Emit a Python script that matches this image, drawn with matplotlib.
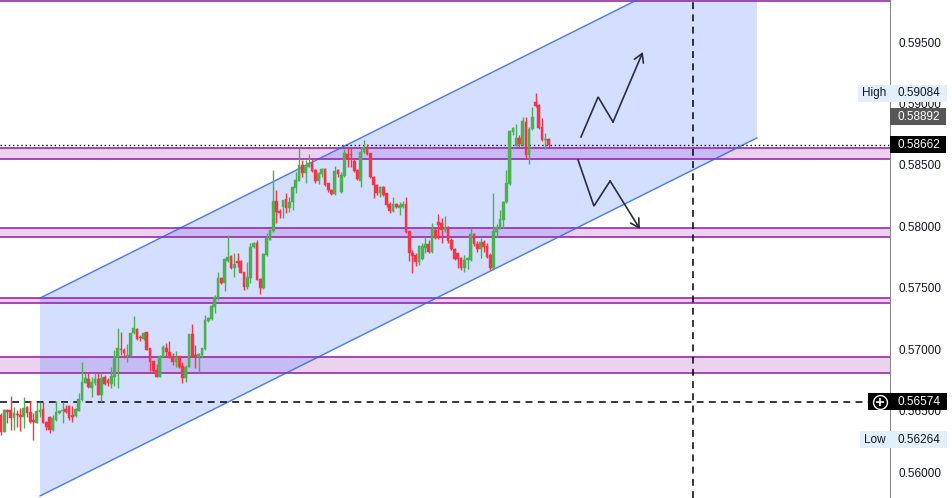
import numpy as np
import matplotlib
matplotlib.use("Agg")
import matplotlib.pyplot as plt
from matplotlib.patches import Rectangle, Polygon
from matplotlib.transforms import blended_transform_factory

plt.rcParams["font.family"] = ["Liberation Sans", "DejaVu Sans"]

# candles (oldest first)
opens = [
    0.56464, 0.56326, 0.56505, 0.56505, 0.56440, 0.56472, 0.56464, 0.56448, 0.56529, 0.56488,
    0.56423, 0.56399, 0.56488, 0.56513, 0.56407, 0.56448, 0.56342, 0.56423, 0.56480, 0.56496,
    0.56513, 0.56537, 0.56464, 0.56456, 0.56496, 0.56586, 0.56724, 0.56757, 0.56684, 0.56724,
    0.56757, 0.56627, 0.56773, 0.56749, 0.56716, 0.56773, 0.56936, 0.57001, 0.56993, 0.56944,
    0.56944, 0.57131, 0.57164, 0.57099, 0.57083, 0.57140, 0.57009, 0.56903, 0.56830, 0.56773,
    0.56936, 0.57009, 0.56977, 0.56944, 0.56895, 0.56944, 0.56863, 0.56765, 0.56855, 0.57123,
    0.56952, 0.56936, 0.56952, 0.57001, 0.57229, 0.57245, 0.57343, 0.57416, 0.57579, 0.57538,
    0.57718, 0.57758, 0.57661, 0.57718, 0.57718, 0.57628, 0.57506, 0.57579, 0.57831, 0.57864,
    0.57571, 0.57498, 0.57766, 0.57888, 0.57962, 0.58206, 0.58124, 0.58157, 0.58222, 0.58149,
    0.58198, 0.58312, 0.58369, 0.58499, 0.58434, 0.58483, 0.58515, 0.58458, 0.58369, 0.58426,
    0.58466, 0.58352, 0.58295, 0.58263, 0.58458, 0.58279, 0.58409, 0.58589, 0.58589, 0.58532,
    0.58458, 0.58369, 0.58605, 0.58646, 0.58597, 0.58401, 0.58336, 0.58271, 0.58320, 0.58271,
    0.58181, 0.58124, 0.58181, 0.58149, 0.58157, 0.58181, 0.57962, 0.57783, 0.57766, 0.57710,
    0.57734, 0.57823, 0.57856, 0.57791, 0.57970, 0.58035, 0.58027, 0.57970, 0.57994, 0.57888,
    0.57815, 0.57783, 0.57742, 0.57661, 0.57726, 0.57726, 0.57937, 0.57856, 0.57815, 0.57872,
    0.57840, 0.57766, 0.57661, 0.57954, 0.57986, 0.58051, 0.58198, 0.58344, 0.58768, 0.58654,
    0.58719, 0.58662, 0.58849, 0.58580, 0.58792, 0.59012, 0.58987, 0.58808, 0.58702, 0.58711,
]
highs = [
    0.56480, 0.56513, 0.56513, 0.56619, 0.56529, 0.56505, 0.56521, 0.56610, 0.56537, 0.56578,
    0.56480, 0.56570, 0.56570, 0.56570, 0.56415, 0.56456, 0.56464, 0.56578, 0.56505, 0.56570,
    0.56545, 0.56545, 0.56537, 0.56521, 0.56643, 0.56895, 0.56806, 0.56814, 0.56773, 0.56806,
    0.56814, 0.56806, 0.56790, 0.56765, 0.56855, 0.56993, 0.57172, 0.57140, 0.57009, 0.57042,
    0.57131, 0.57270, 0.57172, 0.57115, 0.57140, 0.57140, 0.57009, 0.56903, 0.56879, 0.56952,
    0.57034, 0.57050, 0.57066, 0.56969, 0.56985, 0.56944, 0.56895, 0.56871, 0.57123, 0.57205,
    0.57034, 0.56969, 0.57009, 0.57278, 0.57262, 0.57367, 0.57441, 0.57628, 0.57587, 0.57742,
    0.57929, 0.57766, 0.57783, 0.57783, 0.57726, 0.57628, 0.57710, 0.57864, 0.57872, 0.57888,
    0.57579, 0.57783, 0.57945, 0.57970, 0.58458, 0.58295, 0.58141, 0.58214, 0.58271, 0.58239,
    0.58328, 0.58442, 0.58637, 0.58540, 0.58540, 0.58589, 0.58556, 0.58466, 0.58442, 0.58474,
    0.58474, 0.58352, 0.58303, 0.58491, 0.58466, 0.58442, 0.58629, 0.58646, 0.58646, 0.58556,
    0.58466, 0.58646, 0.58702, 0.58670, 0.58597, 0.58409, 0.58344, 0.58328, 0.58328, 0.58271,
    0.58198, 0.58239, 0.58190, 0.58198, 0.58206, 0.58239, 0.57962, 0.57807, 0.57783, 0.57848,
    0.57864, 0.57913, 0.57888, 0.58027, 0.57986, 0.58100, 0.58067, 0.58084, 0.58002, 0.57905,
    0.57823, 0.57783, 0.57750, 0.57766, 0.57750, 0.57986, 0.57945, 0.57880, 0.57905, 0.57888,
    0.57864, 0.57783, 0.58271, 0.58019, 0.58133, 0.58206, 0.58458, 0.58784, 0.58808, 0.58833,
    0.58743, 0.58890, 0.58890, 0.58808, 0.58971, 0.59084, 0.58995, 0.58882, 0.58759, 0.58719,
]
lows = [
    0.56301, 0.56326, 0.56399, 0.56342, 0.56342, 0.56366, 0.56334, 0.56358, 0.56448, 0.56399,
    0.56264, 0.56399, 0.56448, 0.56399, 0.56342, 0.56317, 0.56334, 0.56415, 0.56472, 0.56399,
    0.56480, 0.56423, 0.56407, 0.56448, 0.56496, 0.56578, 0.56724, 0.56684, 0.56610, 0.56708,
    0.56627, 0.56570, 0.56708, 0.56700, 0.56684, 0.56700, 0.56684, 0.56952, 0.56928, 0.56895,
    0.56944, 0.57123, 0.57074, 0.57066, 0.57074, 0.56993, 0.56822, 0.56814, 0.56773, 0.56773,
    0.56936, 0.56944, 0.56928, 0.56871, 0.56855, 0.56847, 0.56724, 0.56733, 0.56855, 0.56936,
    0.56847, 0.56806, 0.56936, 0.56993, 0.57221, 0.57237, 0.57294, 0.57400, 0.57530, 0.57473,
    0.57710, 0.57652, 0.57587, 0.57669, 0.57620, 0.57482, 0.57490, 0.57538, 0.57823, 0.57563,
    0.57449, 0.57490, 0.57758, 0.57888, 0.57954, 0.58027, 0.58067, 0.58067, 0.58108, 0.58117,
    0.58133, 0.58271, 0.58369, 0.58401, 0.58352, 0.58483, 0.58442, 0.58352, 0.58344, 0.58401,
    0.58328, 0.58279, 0.58255, 0.58255, 0.58401, 0.58271, 0.58401, 0.58483, 0.58483, 0.58442,
    0.58377, 0.58320, 0.58597, 0.58580, 0.58393, 0.58230, 0.58255, 0.58239, 0.58247, 0.58157,
    0.58108, 0.58117, 0.58149, 0.58092, 0.58149, 0.57945, 0.57718, 0.57620, 0.57677, 0.57685,
    0.57726, 0.57783, 0.57783, 0.57783, 0.57897, 0.57897, 0.57864, 0.57954, 0.57864, 0.57807,
    0.57726, 0.57661, 0.57644, 0.57628, 0.57652, 0.57718, 0.57840, 0.57791, 0.57742, 0.57791,
    0.57742, 0.57644, 0.57644, 0.57913, 0.57978, 0.57986, 0.58190, 0.58336, 0.58743, 0.58654,
    0.58637, 0.58654, 0.58556, 0.58507, 0.58784, 0.58971, 0.58792, 0.58694, 0.58629, 0.58646,
]
closes = [
    0.56326, 0.56505, 0.56488, 0.56440, 0.56480, 0.56464, 0.56448, 0.56521, 0.56480, 0.56407,
    0.56407, 0.56496, 0.56505, 0.56399, 0.56366, 0.56342, 0.56440, 0.56488, 0.56496, 0.56505,
    0.56488, 0.56440, 0.56448, 0.56513, 0.56594, 0.56733, 0.56765, 0.56692, 0.56733, 0.56757,
    0.56627, 0.56765, 0.56716, 0.56724, 0.56781, 0.56936, 0.57009, 0.56993, 0.56969, 0.56952,
    0.57131, 0.57172, 0.57083, 0.57091, 0.57131, 0.56993, 0.56895, 0.56822, 0.56773, 0.56944,
    0.57018, 0.56977, 0.56936, 0.56895, 0.56936, 0.56855, 0.56765, 0.56855, 0.57123, 0.56944,
    0.56936, 0.56960, 0.57009, 0.57237, 0.57253, 0.57351, 0.57425, 0.57579, 0.57538, 0.57734,
    0.57750, 0.57661, 0.57693, 0.57701, 0.57620, 0.57506, 0.57587, 0.57831, 0.57864, 0.57563,
    0.57498, 0.57775, 0.57905, 0.57970, 0.58206, 0.58117, 0.58108, 0.58214, 0.58149, 0.58198,
    0.58320, 0.58377, 0.58499, 0.58434, 0.58483, 0.58515, 0.58450, 0.58369, 0.58434, 0.58466,
    0.58336, 0.58295, 0.58263, 0.58450, 0.58426, 0.58418, 0.58597, 0.58548, 0.58580, 0.58450,
    0.58385, 0.58605, 0.58646, 0.58589, 0.58401, 0.58336, 0.58271, 0.58320, 0.58255, 0.58173,
    0.58124, 0.58181, 0.58157, 0.58173, 0.58181, 0.57954, 0.57783, 0.57758, 0.57710, 0.57840,
    0.57840, 0.57856, 0.57791, 0.57978, 0.57905, 0.58010, 0.57970, 0.57994, 0.57880, 0.57815,
    0.57734, 0.57734, 0.57661, 0.57726, 0.57742, 0.57937, 0.57856, 0.57815, 0.57872, 0.57831,
    0.57750, 0.57661, 0.57962, 0.57994, 0.58059, 0.58198, 0.58352, 0.58776, 0.58800, 0.58719,
    0.58670, 0.58857, 0.58580, 0.58792, 0.58890, 0.58979, 0.58800, 0.58702, 0.58711, 0.58662,
]

# price scale
price_ticks = [0.56000, 0.56500, 0.57000, 0.57500, 0.58000, 0.58500, 0.59000, 0.59500]
high_price = 0.59084
low_price = 0.56264
last_price = 0.58662
mark_price = 0.58892
cross_price = 0.56574

# drawings (bar index, price)
zones = [(0.58548, 0.58637), (0.57913, 0.57986), (0.57375, 0.57416), (0.56806, 0.56936)]
top_line = 0.59834
channel_x = [12.04, 233.3]
channel_lower = [0.55805, 0.58719]
channel_upper = [0.57416, 0.60330]
vline_x = 213.6
up_path_x = [179.0, 184.3, 188.9, 198.1]
up_path_y = [0.58727, 0.59053, 0.58849, 0.59419]
down_path_x = [178.1, 183.0, 188.0, 197.2]
down_path_y = [0.58540, 0.58165, 0.58369, 0.57978]

GREEN = "#4caf50"
RED = "#f23645"
BLUE = "#2962ff"
PURPLE = "#9c27b0"
INK = "#131722"

o = np.array(opens)
c = np.array(closes)
h = np.maximum(np.array(highs), np.maximum(o, c))
l = np.minimum(np.array(lows), np.minimum(o, c))
x = np.arange(len(o))
up = c >= o
colors = np.where(up, GREEN, RED)

AX_W = 890.0
PX = 1 / 12286.0  # price per pixel

fig = plt.figure(figsize=(9.52, 4.98), dpi=100)
ax = fig.add_axes([0, 0, AX_W / 952, 1])
ax.set_xlim(-1 / 3.24, (AX_W - 1) / 3.24)
ax.set_ylim(0.59842 - 498 * PX, 0.59842)

for s in ["top", "bottom", "left"]:
    ax.spines[s].set_visible(False)
ax.spines["right"].set_color("#8a8a8a")
ax.spines["right"].set_linewidth(0.8)
ax.set_xticks([])
ax.yaxis.tick_right()
ax.set_yticks(price_ticks)
ax.set_yticklabels([f"{t:.5f}" for t in price_ticks])
ax.tick_params(axis="y", length=0, pad=5.8, labelsize=8.5, labelcolor=INK)

# support / resistance zones
for lo, hi in zones:
    ax.axhspan(lo, hi, facecolor=PURPLE, alpha=0.2, lw=0, zorder=1)
    ax.axhline(lo, color=PURPLE, lw=1.2, zorder=2)
    ax.axhline(hi, color=PURPLE, lw=1.2, zorder=2)
ax.axhline(top_line, color=PURPLE, lw=1.2, zorder=2)

# rising channel
poly = Polygon([(channel_x[0], channel_lower[0]), (channel_x[1], channel_lower[1]),
                (channel_x[1], channel_upper[1]), (channel_x[0], channel_upper[0])],
               closed=True, facecolor=BLUE, alpha=0.2, edgecolor="none", zorder=1.5)
ax.add_patch(poly)
ax.plot(channel_x, channel_lower, color=BLUE, lw=1, alpha=0.85, zorder=2.2)
ax.plot(channel_x, channel_upper, color=BLUE, lw=1, alpha=0.85, zorder=2.2)

trans = blended_transform_factory(ax.transAxes, ax.transData)

# last price dotted line, crosshair lines
ax.axhline(last_price, color="black", lw=1, linestyle=(0, (1, 2)), zorder=2.5)
ax.plot([0, 868 / AX_W], [cross_price, cross_price], transform=trans,
        color="black", lw=1.1, linestyle=(0, (4.5, 3.5)), zorder=2.5)
ax.axvline(vline_x, color="black", lw=1.1, linestyle=(0, (4.5, 3.5)), zorder=2.5)

# candles
ax.vlines(x, l, h, colors=colors, lw=1.0, zorder=3)
body = np.maximum(np.abs(c - o), 0.8 * PX)
ax.bar(x, body, bottom=np.minimum(o, c), width=0.84, color=colors,
       edgecolor=colors, lw=0.3, zorder=3.5)

# projected paths
for px_, py_ in [(up_path_x, up_path_y), (down_path_x, down_path_y)]:
    ax.plot(px_[:-1], py_[:-1], color="#2a2e39", lw=1.2, zorder=4, solid_joinstyle="miter")
    ax.annotate("", xy=(px_[-1], py_[-1]), xytext=(px_[-2], py_[-2]),
                arrowprops=dict(arrowstyle="->,head_length=0.6,head_width=0.35",
                                color="#2a2e39", lw=1.2, shrinkA=0, shrinkB=0),
                zorder=4)


def ax_x(p):
    return p / AX_W


def tag(price, text, face, fg, left, right=946, name=None, name_color=INK):
    hh = 17 * PX
    ax.add_patch(Rectangle((ax_x(left), price - hh / 2), ax_x(right - left), hh,
                           transform=trans, facecolor=face, edgecolor="none",
                           clip_on=False, zorder=10))
    ax.text(ax_x(898), price, text, transform=trans, ha="left", va="center",
            color=fg, fontsize=8.5, clip_on=False, zorder=11)
    if name:
        ax.text(ax_x(left + 4), price, name, transform=trans, ha="left", va="center",
                color=name_color, fontsize=8.5, clip_on=False, zorder=11)


tag(high_price, f"{high_price:.5f}", "#e3effd", INK, 858, 947, name="High")
tag(mark_price, f"{mark_price:.5f}", "#575757", "white", 890)
tag(last_price, f"{last_price:.5f}", "black", "white", 890)
tag(cross_price, f"{cross_price:.5f}", "black", "white", 868, 947)
tag(low_price, f"{low_price:.5f}", "#e3effd", INK, 860, 947, name="Low")

# crosshair "+" icon
ax.plot([ax_x(880)], [cross_price], transform=trans, marker="o", ms=10,
        mfc="none", mec="white", mew=1, clip_on=False, zorder=12)
ax.plot([ax_x(880)], [cross_price], transform=trans, marker="+", ms=6,
        mec="white", mew=1.2, clip_on=False, zorder=12)

fig.savefig("out.png", dpi=100)
